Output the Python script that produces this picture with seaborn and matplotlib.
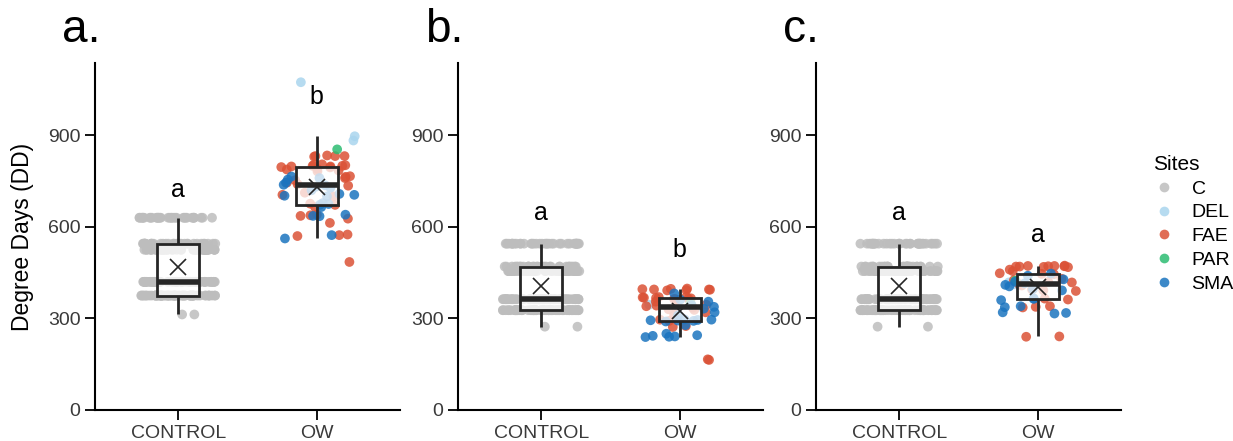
import numpy as np
import pandas as pd
import seaborn as sns
import matplotlib.pyplot as plt
from matplotlib.lines import Line2D

# --- Data ---
GROUPS = ['CONTROL', 'OW']
SITES = ['C', 'DEL', 'FAE', 'PAR', 'SMA']
SITE_COLORS = {'C': '#bdbdbd', 'DEL': '#a9d5ee', 'FAE': '#db5236',
               'PAR': '#2cbc72', 'SMA': '#1b74bf'}
PANEL_LABELS = ['a.', 'b.', 'c.']
SIG_LETTERS = [('a', 'b'), ('a', 'b'), ('a', 'a')]
SIG_HEIGHTS = [(720, 1025), (644, 524), (644, 573)]

# control sites sit on a few discrete DD levels: level values + number of sites per level
ctrl_a_levels = [313, 375, 420, 525, 545, 630]
ctrl_a_counts = [2, 70, 65, 45, 33, 33]
ctrl_bc_levels = [273, 327, 363, 455, 470, 545]
ctrl_bc_counts = [2, 70, 65, 45, 30, 35]

# OW sites, panel a
ow_a_del = [1074, 897, 883]
ow_a_par = [854]
ow_a_fae = [832, 832, 834, 830, 832, 798, 800, 796, 802, 798, 800, 795, 803,
            785, 788, 782, 764, 766, 753, 740, 735, 712, 705, 700, 676, 672,
            665, 640, 638, 636, 627, 613, 573, 575, 570, 485, 760, 790, 805, 745]
ow_a_sma = [765, 760, 755, 738, 736, 732, 728, 708, 705, 702, 700, 678, 675,
            673, 665, 640, 636, 635, 573, 562, 720, 745]

# OW sites, panel b
ow_b_del = [345, 333]
ow_b_par = [350]
ow_b_fae = [395, 393, 396, 394, 397, 395, 392, 398, 368, 366, 365, 370, 364,
            367, 369, 371, 363, 345, 342, 338, 335, 340, 330, 328, 296, 292,
            275, 272, 164, 166, 320, 310, 355]
ow_b_sma = [382, 362, 344, 338, 332, 294, 296, 292, 290, 295, 293, 297, 278,
            243, 240, 241, 239, 245, 250, 310, 320, 355]

# OW sites, panel c
ow_c_del = [418, 412]
ow_c_par = [424]
ow_c_fae = [471, 472, 470, 473, 469, 471, 468, 472, 470, 448, 446, 445, 430,
            425, 420, 418, 412, 408, 395, 392, 390, 365, 362, 340, 338, 336,
            240, 241, 455, 460]
ow_c_sma = [447, 440, 420, 415, 410, 396, 392, 366, 364, 360, 340, 337, 320,
            318, 316, 428, 405]


def build_panel(levels, counts, ow_del, ow_par, ow_fae, ow_sma):
    ctrl = np.repeat(levels, counts)
    rows = [('CONTROL', v, 'C') for v in ctrl]
    for site, vals in [('DEL', ow_del), ('FAE', ow_fae), ('PAR', ow_par), ('SMA', ow_sma)]:
        rows += [('OW', v, site) for v in vals]
    return pd.DataFrame(rows, columns=['Group', 'Value', 'Site'])


panels = [
    build_panel(ctrl_a_levels, ctrl_a_counts, ow_a_del, ow_a_par, ow_a_fae, ow_a_sma),
    build_panel(ctrl_bc_levels, ctrl_bc_counts, ow_b_del, ow_b_par, ow_b_fae, ow_b_sma),
    build_panel(ctrl_bc_levels, ctrl_bc_counts, ow_c_del, ow_c_par, ow_c_fae, ow_c_sma),
]

sns.set_style('ticks')
plt.rcParams['font.family'] = ['Liberation Sans', 'DejaVu Sans']
plt.rcParams['text.color'] = 'black'

fig = plt.figure(figsize=(12.33, 4.41), dpi=100)
lefts = [95, 458, 816]
line_col = '#262626'

for i, df in enumerate(panels):
    ax = fig.add_axes([lefts[i] / 1233, 31 / 441, 305 / 1233, 347 / 441])
    np.random.seed(3 + i)
    sns.stripplot(data=df, x='Group', y='Value', hue='Site', order=GROUPS,
                  hue_order=SITES, palette=SITE_COLORS, jitter=0.28, size=7,
                  alpha=0.85, linewidth=0, legend=False, ax=ax, zorder=1)
    sns.boxplot(data=df, x='Group', y='Value', order=GROUPS, width=0.3,
                showfliers=False, showcaps=False, showmeans=True,
                linewidth=2, linecolor=line_col,
                boxprops=dict(facecolor=(1, 1, 1, 0.75), edgecolor=line_col, linewidth=2),
                medianprops=dict(color=line_col, linewidth=4),
                whiskerprops=dict(color=line_col, linewidth=2),
                meanprops=dict(marker='x', markeredgecolor=line_col,
                               markerfacecolor=line_col, markersize=11,
                               markeredgewidth=1.2),
                ax=ax)

    ax.set_xlim(-0.6, 1.6)
    ax.set_ylim(0, 1137)
    ax.set_yticks([0, 300, 600, 900])
    ax.set_xlabel('')
    ax.set_ylabel('Degree Days (DD)' if i == 0 else '', fontsize=16.5,
                  color='black', labelpad=10)
    ax.tick_params(length=7, width=1.3, labelsize=14, labelcolor='#3a3a3a',
                   color='black')
    for side in ['left', 'bottom']:
        ax.spines[side].set_linewidth(1.5)
        ax.spines[side].set_color('black')
    sns.despine(ax=ax)

    for j, (letter, h) in enumerate(zip(SIG_LETTERS[i], SIG_HEIGHTS[i])):
        ax.text(j, h, letter, ha='center', va='center', fontsize=18)

    fig.text((lefts[i] - 33) / 1233, 1 - 30 / 441, PANEL_LABELS[i],
             fontsize=33, ha='left', va='center')

handles = [Line2D([], [], marker='o', linestyle='', markersize=7,
                  markerfacecolor=SITE_COLORS[s], markeredgewidth=0, alpha=0.85)
           for s in SITES]
leg = fig.legend(handles, SITES, title='Sites', loc='upper left',
                 bbox_to_anchor=(1143 / 1233, 1 - 145 / 441), frameon=False,
                 fontsize=14, title_fontsize=15, handlelength=1.2,
                 handletextpad=0.8, labelspacing=0.32, borderpad=0,
                 alignment='left')

fig.savefig('out.png', dpi=100)
